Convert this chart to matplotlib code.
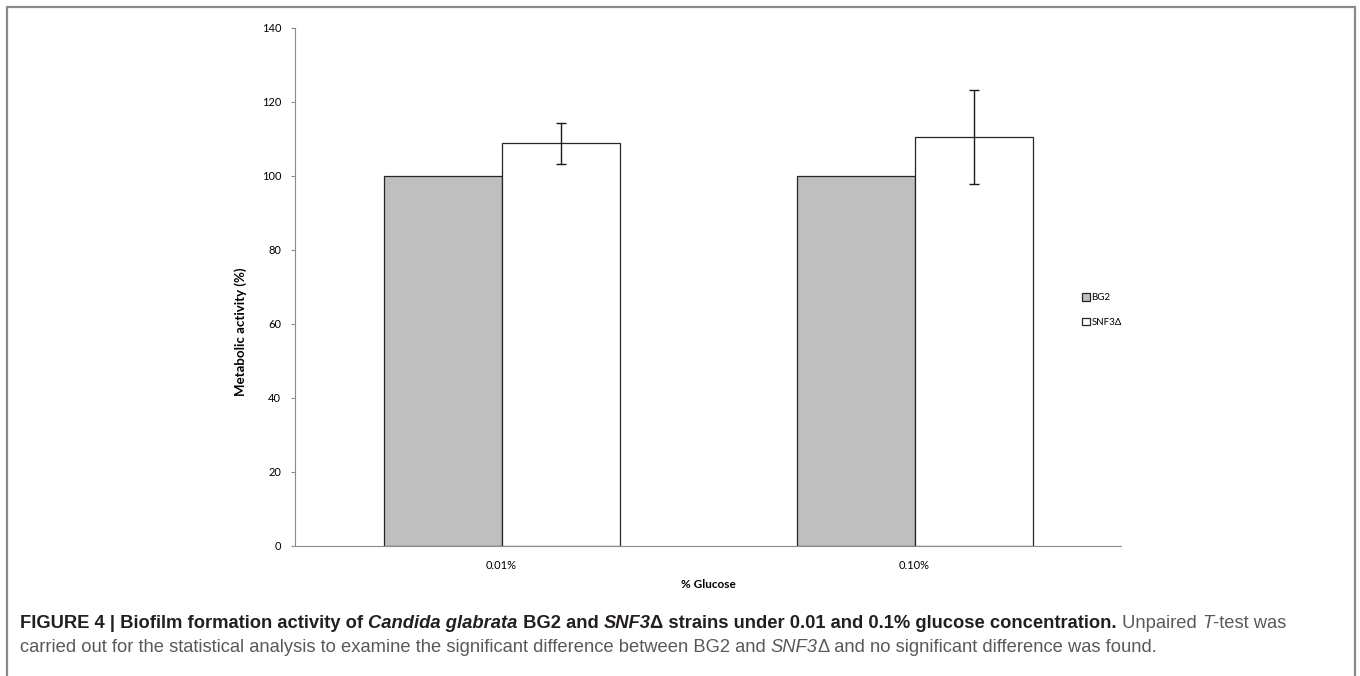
import matplotlib.pyplot as plt
import numpy as np
from matplotlib.patches import Rectangle

categories = ["0.01%", "0.10%"]
bg2 = [100, 100]
snf3 = [108.8, 110.6]
snf3_err = [5.6, 12.7]
series_names = ["BG2", "SNF3Δ"]

W, H = 1360, 676
fig = plt.figure(figsize=(W / 100, H / 100), dpi=100)

# cadre de la figure
fig.patches.append(Rectangle((7 / W, -0.05), (1355 - 7) / W, 1.05 - 7 / H,
                             transform=fig.transFigure, fill=False,
                             edgecolor="#8a8a8a", linewidth=1.6))

ax = fig.add_axes([295 / W, 1 - 546 / H, (1121 - 295) / W, (546 - 28) / H])

x = np.arange(len(categories))
w = 1 / 3.5
ax.bar(x - w / 2, bg2, w, color="#bfbfbf", edgecolor="#262626", linewidth=0.9, label=series_names[0])
ax.bar(x + w / 2, snf3, w, color="white", edgecolor="#262626", linewidth=0.9, label=series_names[1])
ax.errorbar(x + w / 2, snf3, yerr=snf3_err, fmt="none", ecolor="#1a1a1a",
            elinewidth=1, capsize=3.6, capthick=1)

ax.set_xlim(-0.5, 1.5)
ax.set_ylim(0, 140)
ax.set_yticks(range(0, 141, 20))
ax.set_xticks(x)
ax.set_xticklabels(categories)
for s in ["top", "right"]:
    ax.spines[s].set_visible(False)
ax.spines["left"].set_color("#8c8c8c")
ax.spines["bottom"].set_color("#8c8c8c")
ax.tick_params(axis="y", length=3, color="#8c8c8c", labelsize=8, pad=7)
ax.tick_params(axis="x", length=0, labelsize=8, pad=10)
for lab in ax.get_xticklabels() + ax.get_yticklabels():
    lab.set_family("Lato")

ax.set_ylabel("Metabolic activity (%)", fontsize=9.5, fontweight="bold", family="Lato")
ax.yaxis.set_label_coords(-0.058, 0.413)
ax.set_xlabel("% Glucose", fontsize=8.5, fontweight="bold", family="Lato", labelpad=6)

leg = ax.legend(loc="center left", bbox_to_anchor=(1073 / W, 1 - 310 / H),
                bbox_transform=fig.transFigure, frameon=False,
                prop={"family": "Lato", "size": 7}, handlelength=0.8,
                handleheight=0.8, handletextpad=0.2, labelspacing=1.6)

# légende de la figure, en plusieurs morceaux de style différent
fig.canvas.draw()
renderer = fig.canvas.get_renderer()
dark = "#231f20"
grey = "#58595b"
fam = ["Liberation Sans", "DejaVu Sans"]
fs = 13.2

def ligne(morceaux, y):
    xpos = 20
    for txt, poids, style, couleur in morceaux:
        t = fig.text(xpos / W, 1 - y / H, txt, fontsize=fs, family=fam,
                     fontweight=poids, style=style, color=couleur, va="baseline")
        xpos = t.get_window_extent(renderer).x1

ligne([
    ("FIGURE 4 | Biofilm formation activity of ", "bold", "normal", dark),
    ("Candida glabrata", "bold", "italic", dark),
    (" BG2 and ", "bold", "normal", dark),
    ("SNF3", "bold", "italic", dark),
    ("Δ strains under 0.01 and 0.1% glucose concentration.", "bold", "normal", dark),
    (" Unpaired ", "normal", "normal", grey),
    ("T", "normal", "italic", grey),
    ("-test was", "normal", "normal", grey),
], 628)
ligne([
    ("carried out for the statistical analysis to examine the significant difference between BG2 and ", "normal", "normal", grey),
    ("SNF3", "normal", "italic", grey),
    ("Δ and no significant difference was found.", "normal", "normal", grey),
], 652)

fig.savefig("out.png", dpi=100)
